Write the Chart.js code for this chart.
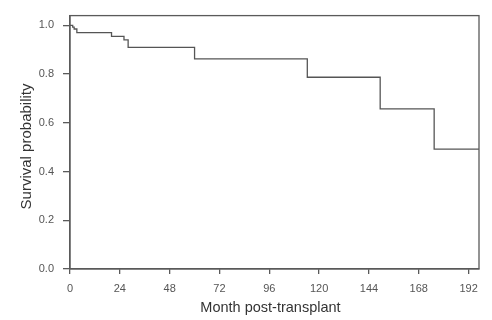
<!DOCTYPE html>
<html>
<head>
<meta charset="utf-8">
<script src="https://cdn.jsdelivr.net/npm/chart.js@4"></script>
<style>
  html, body { margin: 0; padding: 0; background: #fff; }
  #wrap { width: 492px; height: 320px; }
</style>
</head>
<body>
<div id="wrap"><canvas id="kmChart" width="492" height="320"></canvas></div>
<script>
// Kaplan-Meier curve
const months = [0, 1.3, 2, 3.3, 20, 26, 28, 60, 114.3, 149.4, 175.4, 197];
const survival = [1, 0.993, 0.985, 0.97, 0.955, 0.94, 0.91, 0.862, 0.787, 0.657, 0.492, 0.492];

const xTicks = [0, 24, 48, 72, 96, 120, 144, 168, 192];
const yTicks = [0, 0.2, 0.4, 0.6, 0.8, 1.0];

const axisColor = "#5a5a5a";
const textColor = "#555";

const frameBox = {
  id: "frameBox",
  afterDraw: function (chart) {
    const a = chart.chartArea;
    const ctx = chart.ctx;
    ctx.save();
    ctx.strokeStyle = axisColor;
    ctx.lineWidth = 1.3;
    ctx.strokeRect(a.left, a.top, a.right - a.left, a.bottom - a.top);
    ctx.restore();
  },
};

const ctx = document.getElementById("kmChart").getContext("2d");
new Chart(ctx, {
  type: "line",
  data: {
    datasets: [
      {
        label: "Survival",
        data: months.map((m, i) => ({ x: m, y: survival[i] })),
        borderColor: "#555",
        borderWidth: 1.3,
        backgroundColor: "transparent",
        pointRadius: 0,
        stepped: "before",
        fill: false,
      },
    ],
  },
  options: {
    responsive: false,
    animation: false,
    layout: {
      padding: { top: 9, right: 13, left: 0, bottom: 0 },
    },
    plugins: {
      legend: { display: false },
      tooltip: { enabled: false },
    },
    scales: {
      x: {
        type: "linear",
        min: 0,
        max: 197,
        afterBuildTicks: function (axis) {
          axis.ticks = xTicks.map((v) => ({ value: v }));
        },
        afterFit: function (axis) {
          axis.height = 51;
        },
        grid: {
          drawOnChartArea: false,
          drawTicks: true,
          tickLength: 5,
          color: axisColor,
          lineWidth: 1.3,
        },
        border: { display: true, color: axisColor, width: 1.3 },
        ticks: {
          color: textColor,
          padding: 8,
          maxRotation: 0,
          font: { family: "Liberation Sans, Arial", size: 11 },
          callback: function (value) {
            return String(value);
          },
        },
        title: {
          display: true,
          text: "Month post-transplant  ",
          color: "#333",
          padding: { top: 0, bottom: 3.5 },
          font: { family: "Liberation Sans, Arial", size: 14.5 },
        },
      },
      y: {
        type: "linear",
        min: 0,
        max: 1.04,
        afterBuildTicks: function (axis) {
          axis.ticks = yTicks.map((v) => ({ value: v }));
        },
        afterFit: function (axis) {
          axis.width = 70;
        },
        grid: {
          drawOnChartArea: false,
          drawTicks: true,
          tickLength: 7,
          color: axisColor,
          lineWidth: 1.3,
        },
        border: { display: true, color: axisColor, width: 1.3 },
        ticks: {
          color: textColor,
          padding: 9,
          font: { family: "Liberation Sans, Arial", size: 11 },
          callback: function (value) {
            return value.toFixed(1);
          },
        },
        title: {
          display: true,
          text: "Survival probability  ",
          color: "#333",
          padding: { top: 18, bottom: 0 },
          font: { family: "Liberation Sans, Arial", size: 15 },
        },
      },
    },
  },
  plugins: [frameBox],
});
</script>
</body>
</html>
